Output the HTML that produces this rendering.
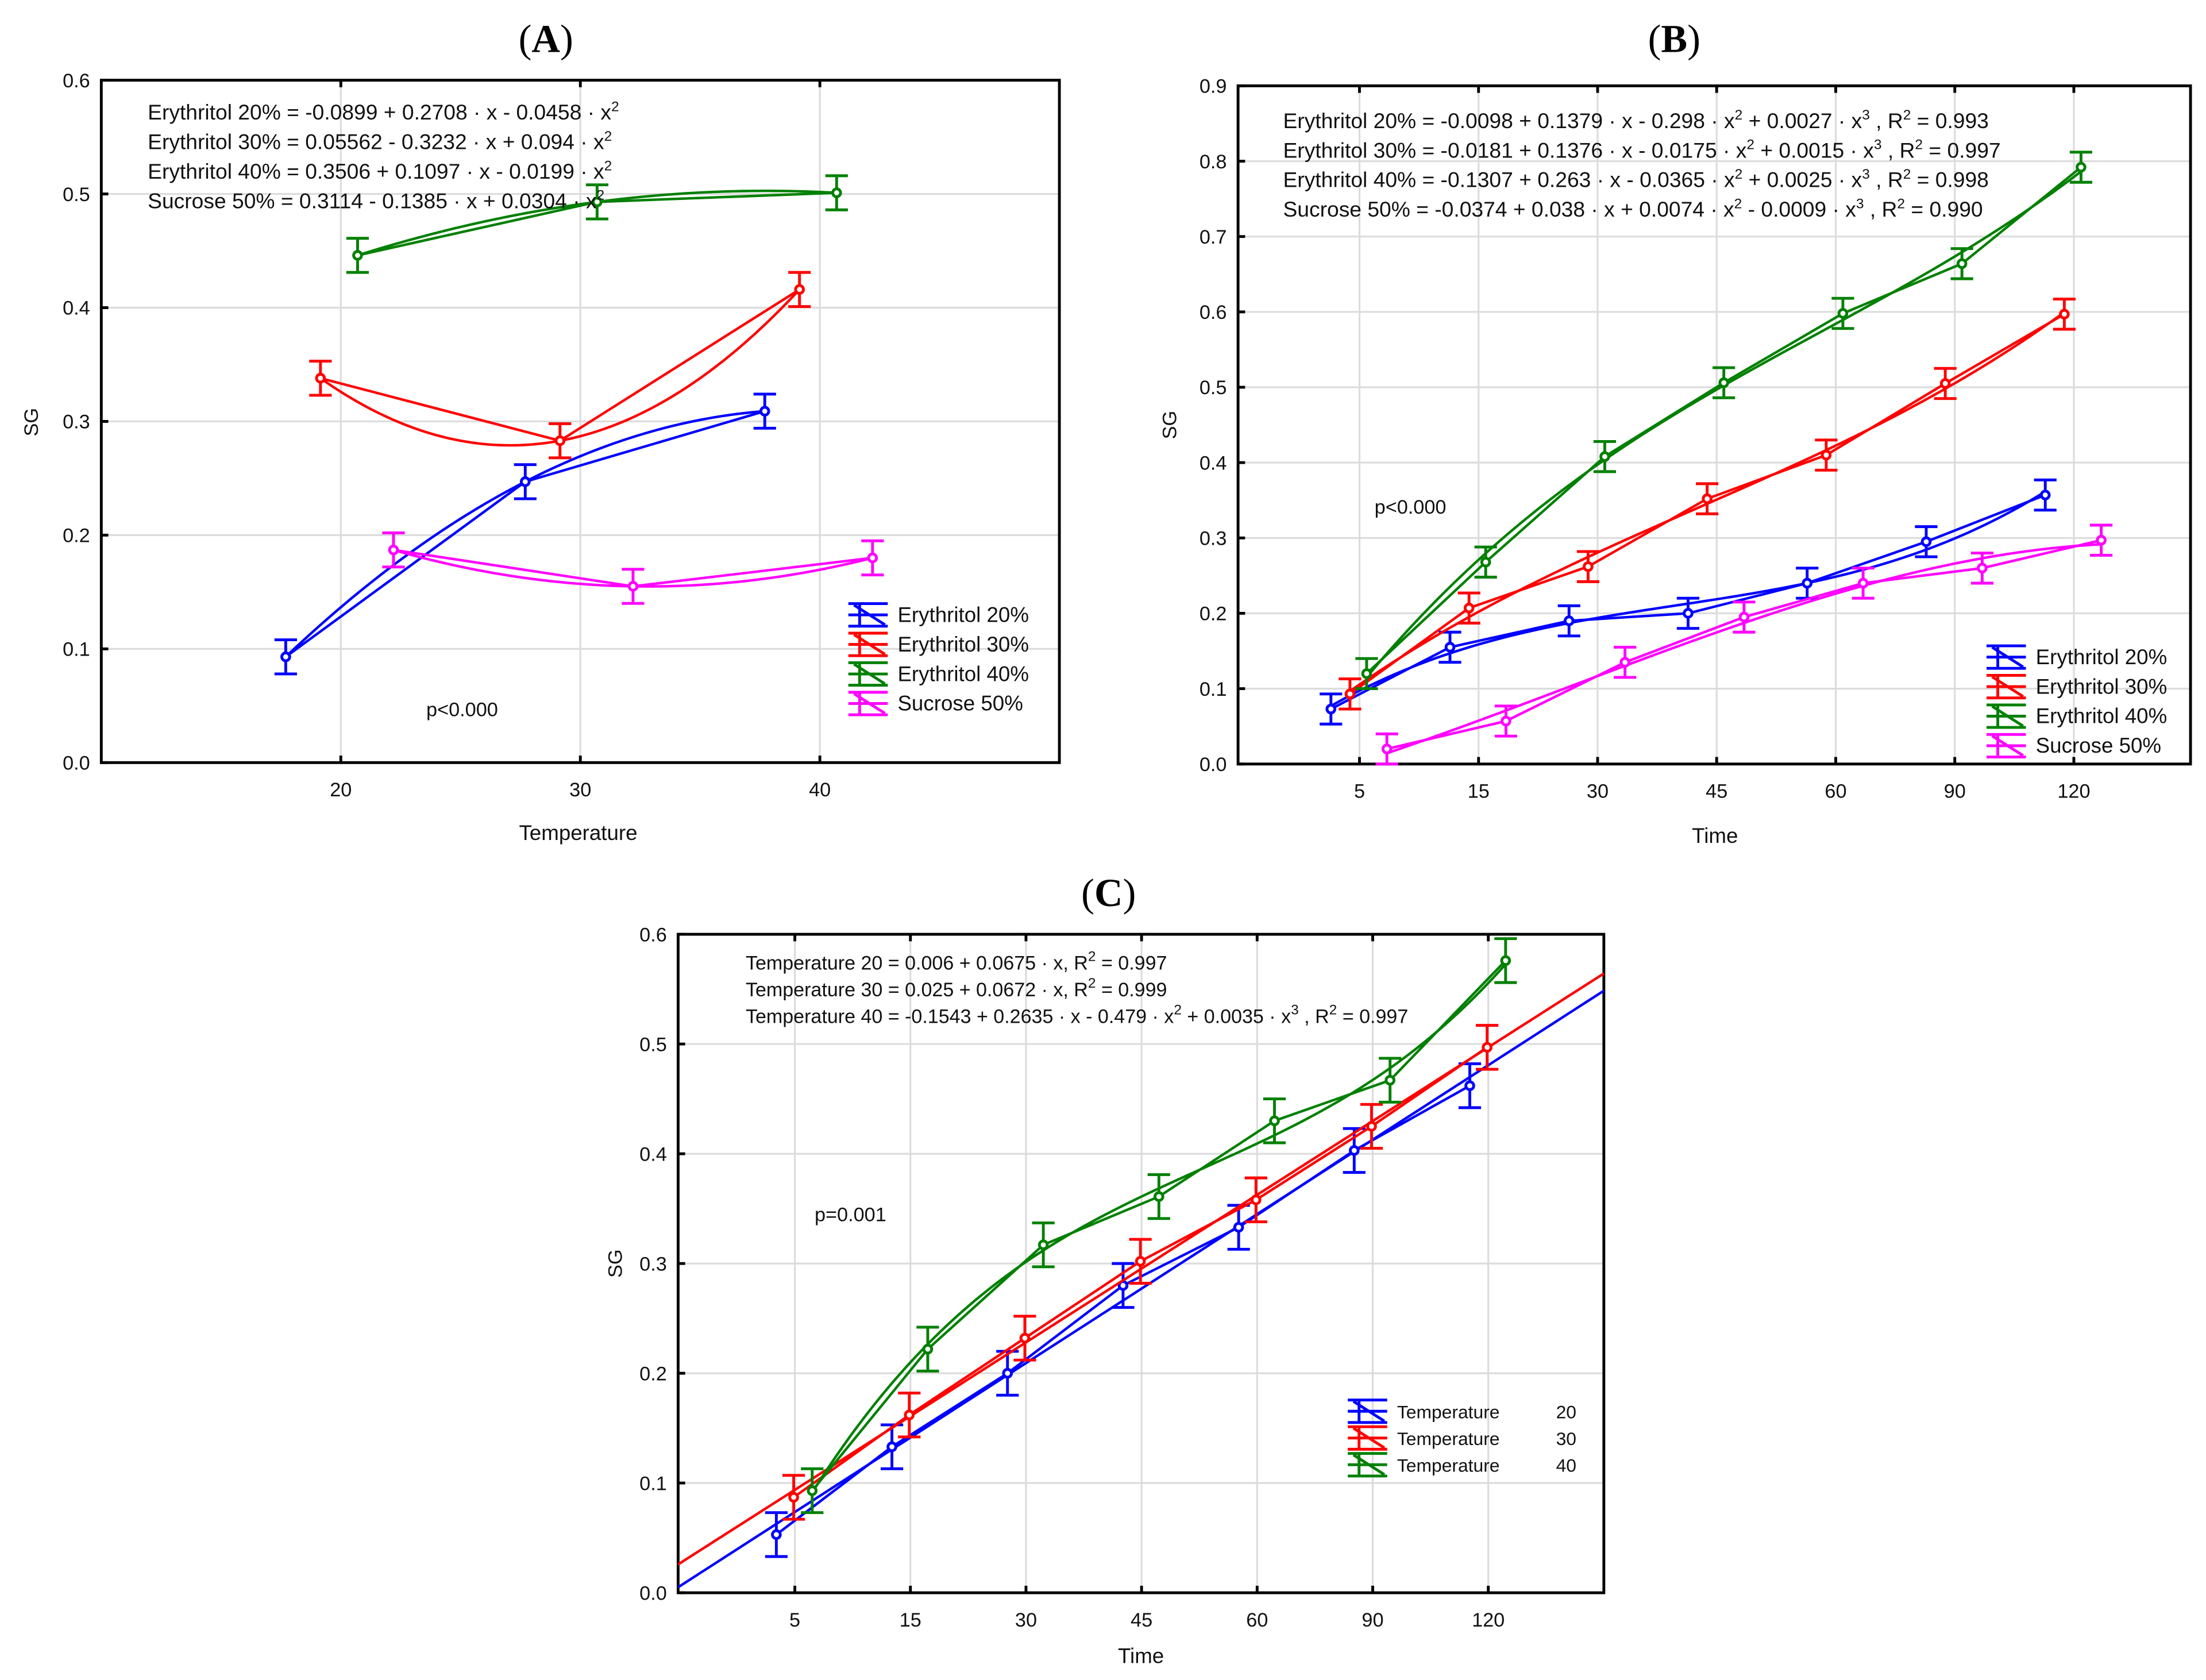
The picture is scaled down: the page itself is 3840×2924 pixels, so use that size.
<!DOCTYPE html>
<html><head><meta charset="utf-8"><style>
html,body{margin:0;padding:0;background:#fff}
svg{display:block}
text{font-family:"Liberation Sans",Arial,sans-serif;fill:#111}
.t{font-family:"Liberation Serif",serif;font-size:28px;fill:#000}
</style></head><body>
<svg id="fig" width="3840" height="2924" viewBox="0 0 1568 1194" preserveAspectRatio="none" xmlns="http://www.w3.org/2000/svg">
<text class="t" x="388" y="37" text-anchor="middle">(<tspan font-weight="bold">A</tspan>)</text>
<text class="t" x="1190" y="37" text-anchor="middle">(<tspan font-weight="bold">B</tspan>)</text>
<text class="t" x="788" y="644" text-anchor="middle">(<tspan font-weight="bold">C</tspan>)</text>
</svg>
<script>
// ---------- Panel A data ----------
const aCats = [20, 30, 40];
const aXOffsets = [-2.3, -0.85, 0.7, 2.2];
const aE20 = [0.093, 0.247, 0.309];
const aE30 = [0.338, 0.283, 0.416];
const aE40 = [0.446, 0.493, 0.501];
const aS50 = [0.187, 0.155, 0.180];
const aYTicks = [0, 0.1, 0.2, 0.3, 0.4, 0.5, 0.6];
const aXTicks = ["20", "30", "40"];
const aNames = ["Erythritol 20%", "Erythritol 30%", "Erythritol 40%", "Sucrose 50%"];
// ---------- Panel B data ----------
const bCats = ["5", "15", "30", "45", "60", "90", "120"];
const bXOffsets = [-0.24, -0.08, 0.06, 0.23];
const bE20 = [0.073, 0.155, 0.190, 0.200, 0.240, 0.295, 0.357];
const bE30 = [0.093, 0.207, 0.262, 0.352, 0.410, 0.505, 0.597];
const bE40 = [0.120, 0.268, 0.408, 0.506, 0.598, 0.664, 0.792];
const bS50 = [0.020, 0.057, 0.135, 0.195, 0.240, 0.260, 0.297];
const bYTicks = [0, 0.1, 0.2, 0.3, 0.4, 0.5, 0.6, 0.7, 0.8, 0.9];
// ---------- Panel C data ----------
const cCats = ["5", "15", "30", "45", "60", "90", "120"];
const cXOffsets = [-0.16, -0.01, 0.15];
const cT20 = [0.053, 0.133, 0.200, 0.280, 0.333, 0.403, 0.462];
const cT30 = [0.087, 0.162, 0.232, 0.302, 0.358, 0.425, 0.497];
const cT40 = [0.093, 0.222, 0.317, 0.361, 0.430, 0.467, 0.576];
const cYTicks = [0, 0.1, 0.2, 0.3, 0.4, 0.5, 0.6];
const cNums = ["20", "30", "40"];

const NS = "http://www.w3.org/2000/svg";
const svg = document.getElementById("fig");
function mk(tag, attrs, parent) {
  const e = document.createElementNS(NS, tag);
  for (const k in attrs) e.setAttribute(k, attrs[k]);
  (parent || svg).appendChild(e);
  return e;
}
function txt(x, y, s, size, anchor, parent) {
  const t = mk("text", {x: x, y: y, "font-size": size, "text-anchor": anchor || "start"}, parent);
  t.innerHTML = s;
  return t;
}
function polyfit(xs, ys, deg) {
  const n = deg + 1, A = [], b = [];
  for (let i = 0; i < n; i++) { A.push(new Array(n).fill(0)); b.push(0); }
  for (let k = 0; k < xs.length; k++) {
    for (let i = 0; i < n; i++) {
      b[i] += ys[k] * Math.pow(xs[k], i);
      for (let j = 0; j < n; j++) A[i][j] += Math.pow(xs[k], i + j);
    }
  }
  for (let i = 0; i < n; i++) {
    let p = i;
    for (let r = i + 1; r < n; r++) if (Math.abs(A[r][i]) > Math.abs(A[p][i])) p = r;
    [A[i], A[p]] = [A[p], A[i]]; [b[i], b[p]] = [b[p], b[i]];
    for (let r = i + 1; r < n; r++) {
      const f = A[r][i] / A[i][i];
      for (let c = i; c < n; c++) A[r][c] -= f * A[i][c];
      b[r] -= f * b[i];
    }
  }
  const c = new Array(n).fill(0);
  for (let i = n - 1; i >= 0; i--) {
    let s = b[i];
    for (let j = i + 1; j < n; j++) s -= A[i][j] * c[j];
    c[i] = s / A[i][i];
  }
  return c;
}
function evalPoly(c, x) { let s = 0; for (let i = 0; i < c.length; i++) s += c[i] * Math.pow(x, i); return s; }

function panel(cfg) {
  const g = mk("g", {});
  
  
  const L = cfg.L, R = cfg.R, T = cfg.T, B = cfg.B;
  const sx = v => L + (v - cfg.x0) / (cfg.x1 - cfg.x0) * (R - L);
  const sy = v => B - (v - cfg.y0) / (cfg.y1 - cfg.y0) * (B - T);
  cfg.yTicks.forEach(v => {
    const l = mk("line", {x1: L, x2: R, y1: sy(v), y2: sy(v), stroke: "#dcdcdc", "stroke-width": 1.3}, g);
    
    
    const t = txt(L - 8, sy(v) + 5, v.toFixed(1), 14, "end", g);
    
    
    mk("line", {x1: L, x2: L + 5, y1: sy(v), y2: sy(v), stroke: "#000", "stroke-width": 2}, g);
  });
  cfg.xTickVals.forEach((v, i) => {
    const l = mk("line", {x1: sx(v), x2: sx(v), y1: T, y2: B, stroke: "#dcdcdc", "stroke-width": 1.3}, g);
    
    
    mk("line", {x1: sx(v), x2: sx(v), y1: T, y2: T + 5, stroke: "#000", "stroke-width": 2}, g);
    mk("line", {x1: sx(v), x2: sx(v), y1: B, y2: B - 5, stroke: "#000", "stroke-width": 2}, g);
    const t = txt(sx(v), B + 24, cfg.xTickLabels[i], 14, "middle", g);
    
    
  });
  const frame = mk("rect", {x: L, y: T, width: R - L, height: B - T, fill: "none", stroke: "#000", "stroke-width": 2}, g);
  
  
  cfg.series.forEach((s, si) => {
    const sg = mk("g", {}, g);
    
    
    const xs = s.vals.map((v, i) => cfg.xTickVals[i] + s.off);
    let d = "";
    s.vals.forEach((v, i) => { d += (i ? "L" : "M") + sx(xs[i]).toFixed(2) + "," + sy(v).toFixed(2); });
    mk("path", {d: d, fill: "none", stroke: s.color, "stroke-width": 1.8}, sg);
    if (s.fitDeg) {
      const c = polyfit(xs, s.vals, s.fitDeg);
      const a = s.extend ? cfg.x0 : xs[0], b = s.extend ? cfg.x1 : xs[xs.length - 1];
      let fd = "";
      for (let k = 0; k <= 120; k++) {
        const x = a + (b - a) * k / 120;
        fd += (k ? "L" : "M") + sx(x).toFixed(2) + "," + sy(evalPoly(c, x)).toFixed(2);
      }
      const fp = mk("path", {d: fd, fill: "none", stroke: s.color, "stroke-width": 1.8}, sg);
      
      
    }
    s.vals.forEach((v, i) => {
      const x = sx(xs[i]), y = sy(v), e = cfg.err / (cfg.y1 - cfg.y0) * (B - T);
      const eb = mk("path", {d: `M${x},${y - e}V${y + e}M${x - 8},${y - e}H${x + 8}M${x - 8},${y + e}H${x + 8}`, stroke: s.color, "stroke-width": 2, fill: "none"}, sg);
      
      
      const m = mk("circle", {cx: x, cy: y, r: 2.8, fill: "#fff", stroke: s.color, "stroke-width": 2}, sg);
      
      
    });
  });
  cfg.legend.rows.forEach((r, i) => {
    const y = cfg.legend.y + i * cfg.legend.dy, x = cfg.legend.x, c = cfg.series[i].color;
    const lg = mk("g", {}, g);
    
    
    mk("path", {d: `M${x},${y - 8}H${x + 28}M${x},${y}H${x + 28}M${x},${y + 8}H${x + 28}M${x + 8},${y - 8}V${y + 8}M${x + 4},${y - 7}L${x + 26},${y + 7}`, stroke: c, "stroke-width": 2, fill: "none"}, lg);
    txt(x + 35, y + 5, r, cfg.legend.size, "start", lg);
    if (cfg.legend.nums) txt(cfg.legend.numX, y + 5, cfg.legend.nums[i], cfg.legend.size, "start", lg);
  });
  cfg.eqs.forEach((e, i) => {
    const t = txt(cfg.eqX, cfg.eqY + i * cfg.eqDy, e, cfg.eqSize, "start", g);
    
    
  });
  const p = txt(cfg.p[0], cfg.p[1], cfg.p[2], 14, "start", g);
  
  
  const yl = txt(0, 0, "SG", 14, "middle", g);
  yl.setAttribute("transform", `translate(${cfg.yLab[0]},${cfg.yLab[1]}) rotate(-90)`);
  
  
  const xl = txt(cfg.xLab[0], cfg.xLab[1], cfg.xLab[2], 15, "middle", g);
  
  
}
const sup = s => `<tspan dy="-6" font-size="10">${s}</tspan><tspan dy="6"> </tspan>`;
const colors = ["#0000ff", "#ff0000", "#008000", "#ff00ff"];
const keys = ["e20", "e30", "e40", "s50"];

panel({
  name: "panel-a", L: 72, R: 753, T: 57, B: 542, x0: 10, x1: 50, y0: 0, y1: 0.6,
  yTicks: aYTicks, xTickVals: aCats, xTickLabels: aXTicks, err: 0.015,
  series: [aE20, aE30, aE40, aS50].map((v, i) => ({key: keys[i], vals: v, off: aXOffsets[i], color: colors[i], fitDeg: 2})),
  legend: {x: 603, y: 437, dy: 21, size: 15, rows: aNames},
  eqs: ["Erythritol 20% = -0.0899 + 0.2708 · x - 0.0458 · x" + sup("2"),
        "Erythritol 30% = 0.05562 - 0.3232 · x + 0.094 · x" + sup("2"),
        "Erythritol 40% = 0.3506 + 0.1097 · x - 0.0199 · x" + sup("2"),
        "Sucrose 50% = 0.3114 - 0.1385 · x + 0.0304 · x" + sup("2")],
  eqX: 105, eqY: 85, eqDy: 21, eqSize: 15.2,
  p: [303, 509, "p&lt;0.000"], yLab: [27, 300], xLab: [411, 597, "Temperature"]
});
panel({
  name: "panel-b", L: 880, R: 1557, T: 61, B: 543, x0: -1.02, x1: 6.98, y0: 0, y1: 0.9,
  yTicks: bYTicks, xTickVals: bCats.map((c, i) => i), xTickLabels: bCats, err: 0.02,
  series: [bE20, bE30, bE40, bS50].map((v, i) => ({key: keys[i], vals: v, off: bXOffsets[i], color: colors[i], fitDeg: 3})),
  legend: {x: 1412, y: 467, dy: 21, size: 15, rows: aNames},
  eqs: ["Erythritol 20% = -0.0098 + 0.1379 · x - 0.298 · x" + sup("2") + "+ 0.0027 · x" + sup("3") + ", R" + sup("2") + "= 0.993",
        "Erythritol 30% = -0.0181 + 0.1376 · x - 0.0175 · x" + sup("2") + "+ 0.0015 · x" + sup("3") + ", R" + sup("2") + "= 0.997",
        "Erythritol 40% = -0.1307 + 0.263 · x - 0.0365 · x" + sup("2") + "+ 0.0025 · x" + sup("3") + ", R" + sup("2") + "= 0.998",
        "Sucrose 50% = -0.0374 + 0.038 · x + 0.0074 · x" + sup("2") + "- 0.0009 · x" + sup("3") + ", R" + sup("2") + "= 0.990"],
  eqX: 912, eqY: 91, eqDy: 21, eqSize: 15.2,
  p: [977, 365, "p&lt;0.000"], yLab: [836, 302], xLab: [1219, 599, "Time"]
});
panel({
  name: "panel-c", L: 482, R: 1140, T: 664, B: 1132, x0: -1.01, x1: 7.0, y0: 0, y1: 0.6,
  yTicks: cYTicks, xTickVals: cCats.map((c, i) => i), xTickLabels: cCats, err: 0.02,
  series: [cT20, cT30, cT40].map((v, i) => ({key: "t" + (i * 10 + 20), vals: v, off: cXOffsets[i], color: colors[i], fitDeg: i < 2 ? 1 : 3, extend: i < 2})),
  legend: {x: 958, y: 1003, dy: 19, size: 13, rows: ["Temperature", "Temperature", "Temperature"], nums: cNums, numX: 1106},
  eqs: ["Temperature 20 = 0.006 + 0.0675 · x, R" + sup("2") + "= 0.997",
        "Temperature 30 = 0.025 + 0.0672 · x, R" + sup("2") + "= 0.999",
        "Temperature 40 = -0.1543 + 0.2635 · x - 0.479 · x" + sup("2") + "+ 0.0035 · x" + sup("3") + ", R" + sup("2") + "= 0.997"],
  eqX: 530, eqY: 689, eqDy: 19, eqSize: 13.9,
  p: [579, 868, "p=0.001"], yLab: [442, 898], xLab: [811, 1182, "Time"]
});
</script>
</body></html>
